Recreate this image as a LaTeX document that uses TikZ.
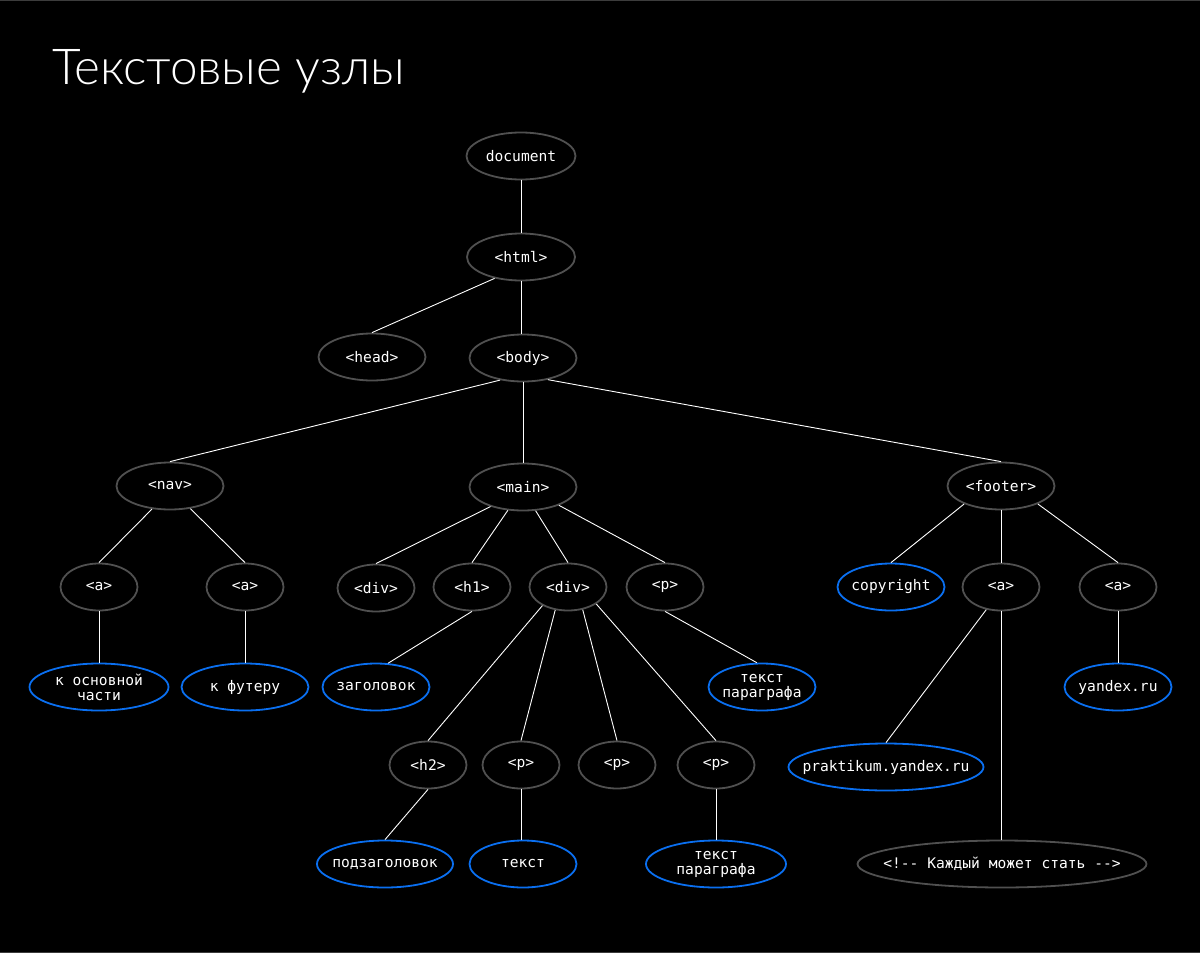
\documentclass[tikz,border=0pt]{standalone}
\usepackage{fontspec}
\setmonofont{DejaVu Sans Mono}
\newfontfamily\titlefont{Lato}[UprightFont=* Light]
\usetikzlibrary{shapes.geometric}

\definecolor{tagline}{HTML}{505050}
\definecolor{textblue}{HTML}{0A6FF0}
\definecolor{frameline}{HTML}{3C3C3C}

\begin{document}
\begin{tikzpicture}[
  x=1pt, y=-1pt,
  font=\ttfamily\fontsize{14.6}{15}\selectfont,
  tagnode/.style={ellipse, draw=tagline, line width=1.8pt, fill=black, text=white,
    inner xsep=-70pt, inner ysep=-20pt, minimum height=47pt, minimum width=77pt,
    align=center},
  textnode/.style={tagnode, draw=textblue},
  edge/.style={draw=white, line width=0.9pt}
]

% Background and frame
\fill[black] (0,0) rectangle (1200,953);
\useasboundingbox (0,0) rectangle (1200,953);
\draw[frameline, line width=2pt] (0,0) -- (1200,0);
\draw[frameline, line width=2pt] (0,953) -- (1200,953);

% Title
\node[anchor=base west, text=white, font=\titlefont\fontsize{49.5}{49.5}\selectfont, inner sep=0pt]
  (title) at (52,84) {Текстовые узлы};

% Upper levels
\node[tagnode, minimum width=109pt] (doc) at (521,156) {document};
\node[tagnode, minimum width=108pt] (html) at (521,257) {<html>};
\node[tagnode, minimum width=107pt] (head) at (372,357) {<head>};
\node[tagnode, minimum width=107pt] (body) at (523,358) {<body>};

\node[tagnode, minimum width=107pt] (nav) at (170,486) {<nav>};
\node[tagnode, minimum width=107pt] (main) at (523,487) {<main>};
\node[tagnode, minimum width=107pt] (footer) at (1001,486) {<footer>};

% Children of nav
\node[tagnode] (navA) at (99,587) {<a>};
\node[tagnode] (navB) at (245,587) {<a>};
\node[textnode, minimum width=139pt] (toMain) at (99,687) {к основной\\части};
\node[textnode, minimum width=127pt] (toFooter) at (245,687) {к футеру};

% Children of main
\node[tagnode] (divA) at (376,588) {<div>};
\node[tagnode] (hOne) at (472,587) {<h1>};
\node[tagnode] (divB) at (568,587) {<div>};
\node[tagnode] (pMain) at (665,587) {<p>};
\node[textnode, minimum width=107pt] (heading) at (376,687) {заголовок};
\node[textnode, minimum width=107pt] (paraText) at (762,687) {текст\\параграфа};

% Children of the second div
\node[tagnode] (hTwo) at (428,765) {<h2>};
\node[tagnode] (pA) at (521,765) {<p>};
\node[tagnode] (pB) at (617,765) {<p>};
\node[tagnode] (pC) at (716,765) {<p>};
\node[textnode, minimum width=136pt] (subheading) at (385,864) {подзаголовок};
\node[textnode, minimum width=107pt] (plainText) at (523,864) {текст};
\node[textnode, minimum width=140pt] (paraTextB) at (716,864) {текст\\параграфа};

% Children of footer
\node[textnode, minimum width=107pt] (copyright) at (891,587) {copyright};
\node[tagnode] (footA) at (1001,587) {<a>};
\node[tagnode] (footB) at (1118,587) {<a>};
\node[textnode, minimum width=195pt] (praktikum) at (886,767) {praktikum.yandex.ru};
\node[tagnode, minimum width=289pt] (comment) at (1002,864) {<!-{}- Каждый может стать -{}->};
\node[textnode, minimum width=107pt] (yandex) at (1118,687) {yandex.ru};

% Edges
\draw[edge] (doc) -- (html);
\draw[edge] (html.-141) -- (head.north);
\draw[edge] (html) -- (html |- body.north);

\draw[edge] (body.-136) -- (nav.north);
\draw[edge] (body) -- (main);
\draw[edge] (body.-41) -- (footer.north);

\draw[edge] (nav.-128) -- (navA.north);
\draw[edge] (nav.-48) -- (navB.north);
\draw[edge] (navA) -- (toMain);
\draw[edge] (navB) -- (toFooter);

\draw[edge] (main.-149) -- (divA.north);
\draw[edge] (main.-123) -- (hOne.north);
\draw[edge] (main.-62) -- (divB.north);
\draw[edge] (main.-27) -- (pMain.north);
\draw[edge] (hOne.south) -- (heading.63);
\draw[edge] (pMain.south) -- (paraText.102);

\draw[edge] (divB.-144) -- (hTwo.north);
\draw[edge] (divB.-119) -- (pA.north);
\draw[edge] (divB.-57) -- (pB.north);
\draw[edge] (divB.-31) -- (pC.north);
\draw[edge] (hTwo.south) -- (subheading.north);
\draw[edge] (pA.south) -- (pA.south |- plainText.north);
\draw[edge] (pC) -- (paraTextB);

\draw[edge] (footer.-154) -- (copyright.north);
\draw[edge] (footer) -- (footA);
\draw[edge] (footer.-26) -- (footB.north);
\draw[edge] (footA.-123) -- (praktikum.north);
\draw[edge] (footA.south) -- (footA.south |- comment.north);
\draw[edge] (footB) -- (yandex);

\end{tikzpicture}
\end{document}
